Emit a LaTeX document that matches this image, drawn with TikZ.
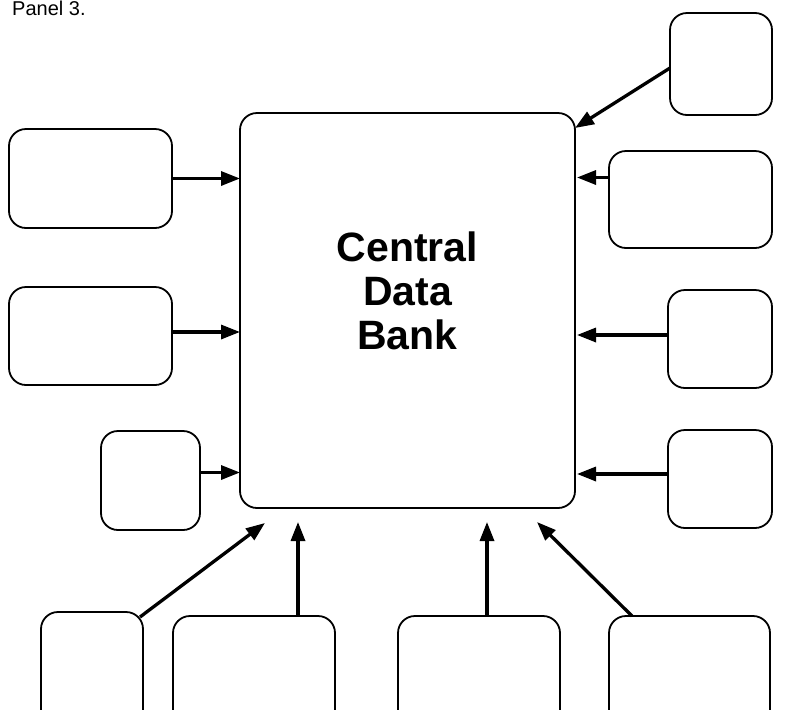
\documentclass[tikz,border=0pt]{standalone}
\usepackage{fontspec}
\setmainfont{Liberation Sans}
\usetikzlibrary{arrows.meta}
\begin{document}
\begin{tikzpicture}[x=1pt,y=-1pt,
  box/.style={draw, line width=1.8pt, rounded corners=17pt, inner sep=0pt, outer sep=0pt},
  feed/.style={line width=3.3pt, -{Triangle[length=19pt,width=14pt]}}]
\useasboundingbox (0,0) rectangle (788,710);
\clip (0,0) rectangle (788,710);

% caption
\node[anchor=base west, inner sep=0pt, font=\fontsize{20}{22}\selectfont] (cap) at (12,15) {Panel 3.};

% central store
\node[box, minimum width=335pt, minimum height=395pt] (cb) at (407.5,310.5) {};
\node[align=center, inner sep=0pt, font=\fontsize{41}{44}\selectfont\bfseries] (cbt) at (407.5,291) {Central\\Data\\Bank};

% sources on the left
\node[box, minimum width=163pt, minimum height=99pt] (l1) at (90.5,178.5) {};
\node[box, minimum width=163pt, minimum height=98pt] (l2) at (90.5,336) {};
\node[box, minimum width=99pt, minimum height=99pt] (l3) at (150.5,480.5) {};

% sources on the right
\node[box, minimum width=102pt, minimum height=102pt] (r1) at (721,64) {};
\node[box, minimum width=163pt, minimum height=97pt] (r2) at (690.5,199.5) {};
\node[box, minimum width=104pt, minimum height=98pt] (r3) at (720,339) {};
\node[box, minimum width=104pt, minimum height=98pt] (r4) at (720,479) {};

% sources along the bottom
\node[box, minimum width=102pt, minimum height=150pt] (b1) at (92,687) {};
\node[box, minimum width=162pt, minimum height=150pt] (b2) at (254,691) {};
\node[box, minimum width=162pt, minimum height=150pt] (b3) at (479,691) {};
\node[box, minimum width=161pt, minimum height=150pt] (b4) at (689.5,691) {};

% connector end points
\coordinate (l2out) at ([yshift=4pt]l2.east);
\coordinate (l3out) at ([yshift=8pt]l3.east);
\coordinate (r1out) at ([yshift=-4pt]r1.west);
\coordinate (r2out) at ([yshift=22pt]r2.west);
\coordinate (r3out) at ([yshift=4pt]r3.west);
\coordinate (r4out) at ([yshift=5pt]r4.west);
\coordinate (b1out) at ([xshift=-3pt,yshift=-5pt]b1.north east);
\coordinate (b2out) at ([xshift=44pt]b2.north);
\coordinate (b3out) at ([xshift=8pt]b3.north);
\coordinate (b4out) at ([xshift=23pt]b4.north west);
\coordinate (r1in) at ([yshift=-15pt]cb.north east);
\coordinate (b1in) at (265,523);
\coordinate (b4in) at (537,522);

% connectors
\draw[feed] (l1.east) -- (cb.west |- l1.east);
\draw[feed] (l2out) -- (cb.west |- l2out);
\draw[feed] (l3out) -- (cb.west |- l3out);

\draw[feed] (r1out) -- (r1in);
\draw[feed] (r2out) -- ([xshift=2pt]cb.east |- r2out);
\draw[feed] (r3out) -- ([xshift=2pt]cb.east |- r3out);
\draw[feed] (r4out) -- ([xshift=2pt]cb.east |- r4out);

\draw[feed] (b1out) -- (b1in);
\draw[feed] (b2out) -- ([yshift=-14pt]cb.south -| b2out);
\draw[feed] (b3out) -- ([yshift=-14pt]cb.south -| b3out);
\draw[feed] (b4out) -- (b4in);
\end{tikzpicture}
\end{document}
